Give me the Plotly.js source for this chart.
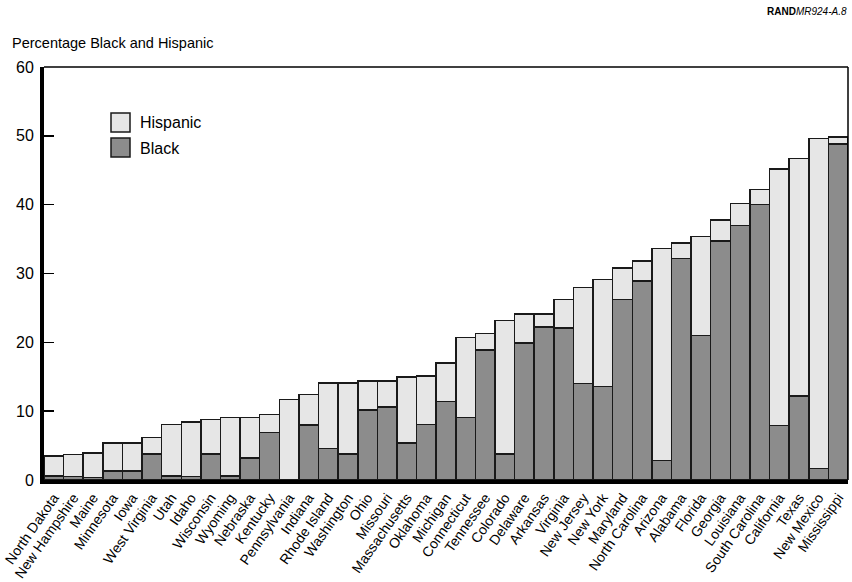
<!DOCTYPE html>
<html>
<head>
<meta charset="utf-8">
<script src="https://cdn.plot.ly/plotly-3.0.1.min.js"></script>
<style>html,body{margin:0;padding:0;background:#fff;}#chart{width:852px;height:582px;}</style>
</head>
<body>
<div id="chart"></div>
<script>
var states = ["North Dakota","New Hampshire","Maine","Minnesota","Iowa","West Virginia","Utah","Idaho","Wisconsin","Wyoming","Nebraska","Kentucky","Pennsylvania","Indiana","Rhode Island","Washington","Ohio","Missouri","Massachusetts","Oklahoma","Michigan","Connecticut","Tennessee","Colorado","Delaware","Arkansas","Virginia","New Jersey","New York","Maryland","North Carolina","Arizona","Alabama","Florida","Georgia","Louisiana","South Carolina","California","Texas","New Mexico","Mississippi"];
var black = [0.6,0.5,0.4,1.3,1.3,3.8,0.6,0.5,3.8,0.6,3.2,6.9,0,8.0,4.6,3.8,10.2,10.6,5.4,8.1,11.4,9.1,18.9,3.8,19.9,22.2,22.1,14.0,13.6,26.2,28.9,2.8,32.2,21.0,34.7,37.0,40.0,7.9,12.2,1.7,48.8];
var hispanic = [2.9,3.2,3.5,4.1,4.1,2.4,7.5,7.9,5.0,8.5,5.9,2.6,11.7,4.4,9.5,10.3,4.2,3.8,9.6,7.0,5.6,11.6,2.4,19.4,4.2,1.9,4.1,14.0,15.5,4.6,2.9,30.8,2.2,14.4,3.1,3.2,2.2,37.3,34.5,47.9,1.0];
var yTicks = [0,10,20,30,40,50,60];

var FONT = "Liberation Sans, Arial, sans-serif";
var BLACK_FILL = "#8c8c8c", HISP_FILL = "#e6e6e6", EDGE = "#1a1a1a";

var traces = [
  {type:"bar", name:"Black", x:states, y:black, marker:{color:BLACK_FILL, line:{color:EDGE, width:1.5}}, showlegend:false, hoverinfo:"x+y+name"},
  {type:"bar", name:"Hispanic", x:states, y:hispanic, marker:{color:HISP_FILL, line:{color:EDGE, width:1.5}}, showlegend:false, hoverinfo:"x+y+name"}
];

var L=44, R=4, T=67, B=102, W=852, H=582;
var pw = W-L-R, ph = H-T-B;
function px(x){return (x-L)/pw;}
function py(y){return (H-B-y)/ph;}

var layout = {
  width:W, height:H,
  margin:{l:L, r:R, t:T, b:B, pad:0},
  paper_bgcolor:"#fff", plot_bgcolor:"#fff",
  barmode:"stack", bargap:0,
  font:{family:FONT, color:"#000"},
  title:{text:"Percentage Black and Hispanic", font:{family:FONT, size:14.5, color:"#000"}, xref:"container", x:12/W, xanchor:"left", yref:"container", y:1-43/H, yanchor:"middle"},
  xaxis:{type:"category", categoryarray:states, tickangle:-55, tickfont:{family:FONT, size:14, color:"#000"},
         showline:true, linecolor:"#000", linewidth:4, ticks:"", showgrid:false, zeroline:false, automargin:false},
  yaxis:{range:[0,60], tickvals:yTicks, ticktext:yTicks.map(String), ticks:"inside", ticklen:10, tickwidth:1.5, tickcolor:"#000",
         tickfont:{family:FONT, size:16, color:"#000"}, ticklabelstandoff:3, showline:true, linecolor:"#000", linewidth:4, showgrid:false, zeroline:false, automargin:false},
  shapes:[
    {type:"line", xref:"paper", yref:"paper", x0:0, x1:1, y0:1, y1:1, line:{color:"#000", width:1.5}},
    {type:"line", xref:"paper", yref:"paper", x0:1, x1:1, y0:0, y1:1, line:{color:"#000", width:1.5}},
    {type:"rect", xref:"paper", yref:"paper", x0:px(111), x1:px(130), y0:py(132), y1:py(113), fillcolor:HISP_FILL, line:{color:EDGE, width:1.5}},
    {type:"rect", xref:"paper", yref:"paper", x0:px(111), x1:px(130), y0:py(157), y1:py(138), fillcolor:BLACK_FILL, line:{color:EDGE, width:1.5}}
  ],
  annotations:[
    {xref:"paper", yref:"paper", x:px(138), y:py(123), xanchor:"left", yanchor:"middle", text:"Hispanic", showarrow:false, font:{family:FONT, size:16, color:"#000"}},
    {xref:"paper", yref:"paper", x:px(138), y:py(148), xanchor:"left", yanchor:"middle", text:"Black", showarrow:false, font:{family:FONT, size:16, color:"#000"}},
    {xref:"paper", yref:"paper", x:px(849), y:py(12), xanchor:"right", yanchor:"middle", text:"<b>RAND</b><i>MR924-A.8</i>", showarrow:false, font:{family:FONT, size:10, color:"#000"}}
  ]
};

Plotly.newPlot("chart", traces, layout, {displayModeBar:false, staticPlot:true});
</script>
</body>
</html>
